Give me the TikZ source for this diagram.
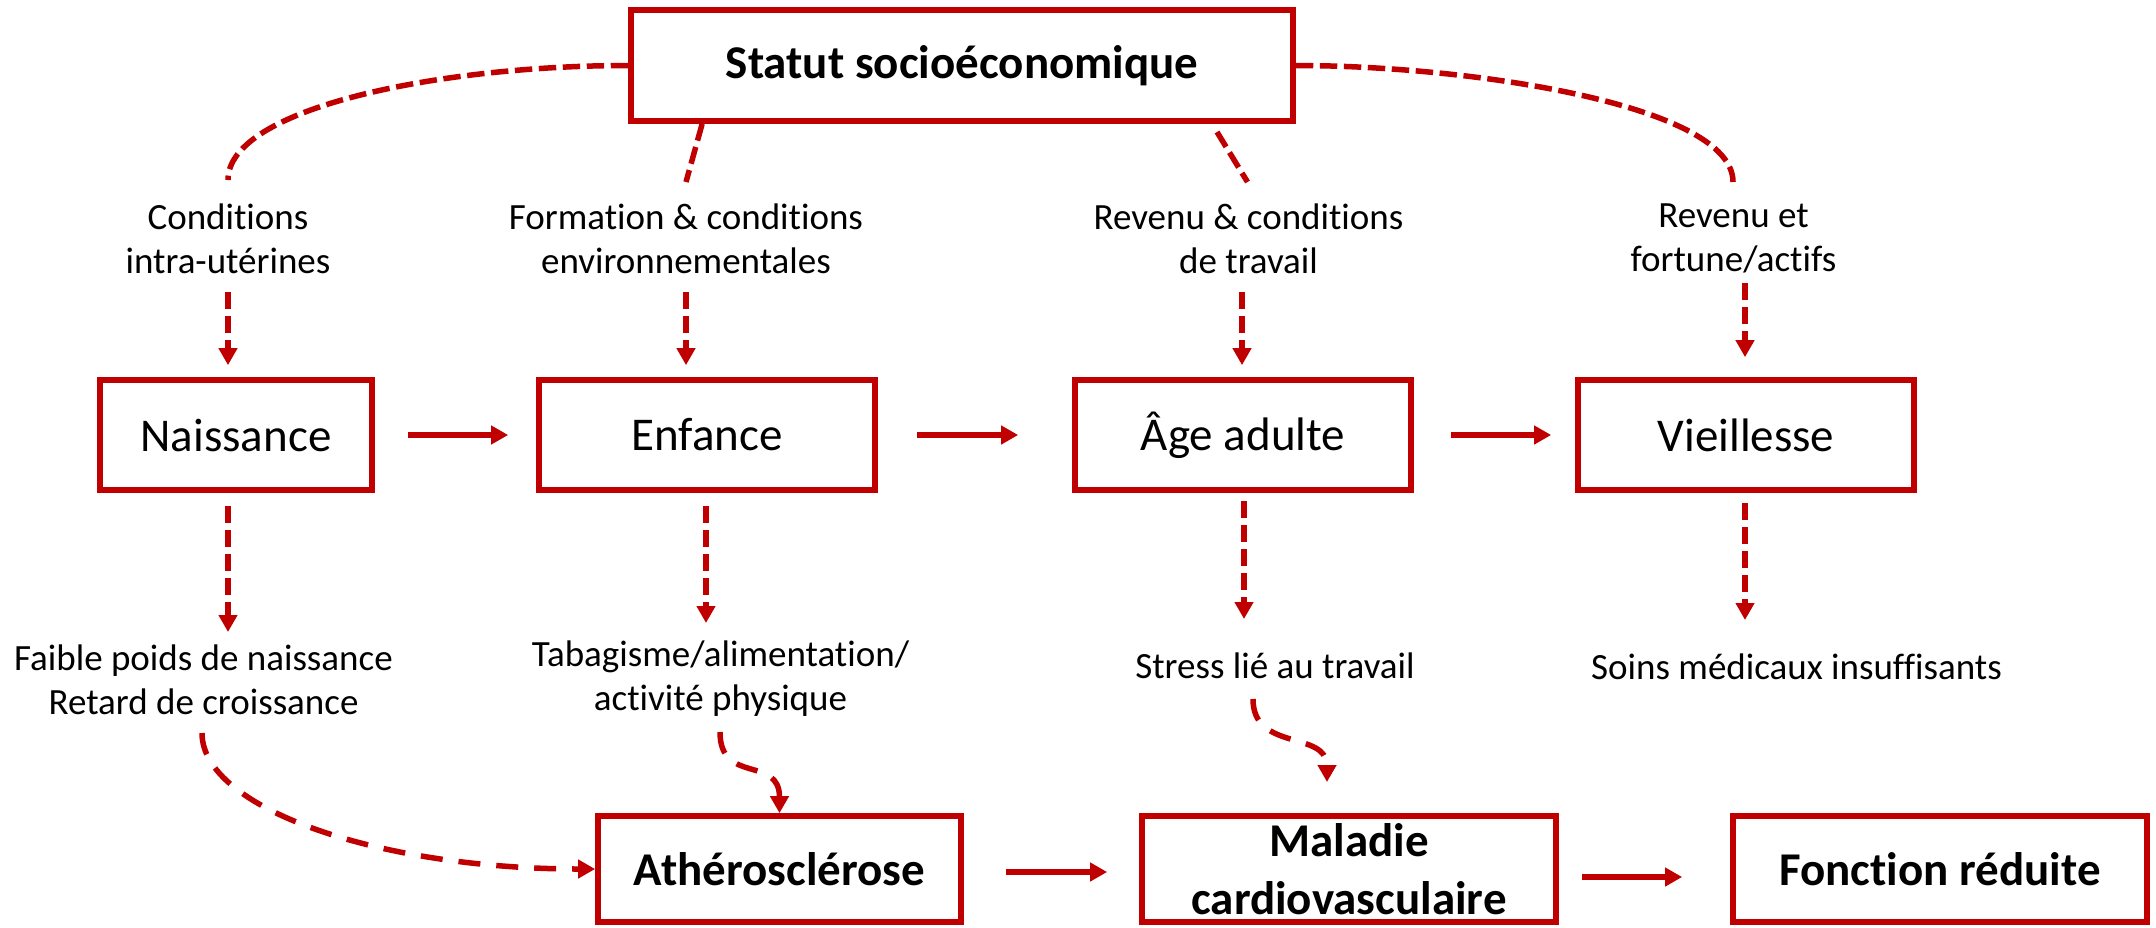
\documentclass[tikz,border=0pt]{standalone}
\usepackage{fontspec}
\setmainfont{Carlito}[Ligatures=NoCommon]
\usetikzlibrary{arrows.meta,calc}
\definecolor{dred}{RGB}{192,0,0}
\begin{document}
\begin{tikzpicture}[x=0.5pt,y=-0.5pt,
  box/.style={draw=dred, line width=2.85pt, inner sep=0pt, align=center, font=\fontsize{23.5}{29}\selectfont},
  bbox/.style={box, font=\fontsize{23.5}{29}\selectfont\bfseries},
  lab/.style={inner sep=0pt, align=center, font=\fontsize{18.5}{22}\selectfont},
  sarr/.style={draw=dred, line width=2.75pt, -{Triangle[length=8.5pt,width=9pt]}},
  dline/.style={draw=dred, line width=2.75pt, dash pattern=on 8.7pt off 3.3pt},
  darr/.style={draw=dred, line width=2.75pt, dash pattern=on 8.7pt off 3.3pt, -{Triangle[length=8.5pt,width=9pt]}},
  carr/.style={darr, dash pattern=on 11pt off 8pt},
]
\useasboundingbox (0,0) rectangle (2156,927);

% boxes
\node[bbox, minimum width=331pt, minimum height=55.5pt] (top) at (962,65.5) {Statut socioéconomique};
\node[box, minimum width=136pt, minimum height=55pt] (nais) at (236,435) {Naissance};
\node[box, minimum width=168pt, minimum height=55pt] (enf) at (707,435) {Enfance};
\node[box, minimum width=168pt, minimum height=55pt] (age) at (1243,435) {Âge adulte};
\node[box, minimum width=168pt, minimum height=55pt] (vie) at (1746,435) {Vieillesse};
\node[bbox, minimum width=181.5pt, minimum height=53pt] (ath) at (779.5,869) {Athérosclérose};
\node[bbox, minimum width=207pt, minimum height=53pt] (mal) at (1349,869) {Maladie\\cardiovasculaire};
\node[bbox, minimum width=207pt, minimum height=53pt] (fon) at (1940,869) {Fonction réduite};

% labels
\node[lab] (c1) at (228,238.5) {Conditions\\intra-utérines};
\node[lab] (c2) at (686,238.5) {Formation \& conditions\\environnementales};
\node[lab] (c3) at (1248.5,238.5) {Revenu \& conditions\\de travail};
\node[lab] (c4) at (1733.5,238.5) {Revenu et\\fortune/actifs};
\node[lab] (b1) at (203.5,680) {Faible poids de naissance\\Retard de croissance};
\node[lab] (b2) at (720.5,678.5) {Tabagisme/alimentation/\\activité physique};
\node[lab] (b3) at (1275,665.6) {Stress lié au travail};
\node[lab] (b4) at (1796.6,667) {Soins médicaux insuffisants};

% free ends
\coordinate (c1t) at (228,180);
\coordinate (c2t) at (686,182);
\coordinate (l3s) at (1217,132);
\coordinate (c3t) at (1247.5,182);
\coordinate (c4t) at (1733,182);
\coordinate (a1) at (228,292);
\coordinate (a2) at (686,292);
\coordinate (a3) at (1242,292);
\coordinate (a4) at (1745,283);
\coordinate (e1) at (228,632);
\coordinate (e2) at (706,623);
\coordinate (e3) at (1244,619);
\coordinate (e4) at (1745,620);
\coordinate (f1) at (202,733);
\coordinate (f2) at (720,732);
\coordinate (f3) at (1253,699);
\coordinate (f3e) at (1327,782);

% top dashed lines
\draw[dline] (top.west) .. controls (440,65.5) and (228,108) .. (c1t);
\draw[dline] ([xshift=37pt]top.south west) -- (c2t);
\draw[dline] (l3s) -- (c3t);
\draw[dline] (top.east) .. controls (1470,65.5) and (1733,105) .. (c4t);

% dashed arrows into life stages
\draw[darr, shorten >=6pt] (a1) -- (a1 |- nais.north);
\draw[darr, shorten >=6pt] (a2) -- (a2 |- enf.north);
\draw[darr, shorten >=6pt] (a3) -- (a3 |- age.north);
\draw[darr, shorten >=10pt] (a4) -- (a4 |- vie.north);

% dashed arrows out of life stages
\draw[darr, shorten <=6.5pt] (e1 |- nais.south) -- (e1);
\draw[darr, shorten <=6.5pt] (e2 |- enf.south) -- (e2);
\draw[darr, shorten <=4pt] (e3 |- age.south) -- (e3);
\draw[darr, shorten <=5pt] (e4 |- vie.south) -- (e4);

% curved dashed arrows
\draw[carr] (f1) .. controls (202,809) and (381,869) .. (ath.west);
\draw[carr] (f2) .. controls (720,785) and (779.5,755) .. (ath.north);
\draw[carr] (f3) .. controls (1253,752) and (1327,730) .. (f3e);

% solid arrows
\draw[sarr, shorten <=16.5pt, shorten >=14pt] (nais.east) -- (enf.west);
\draw[sarr, shorten <=19.5pt, shorten >=27pt] (enf.east) -- (age.west);
\draw[sarr, shorten <=18.75pt, shorten >=12pt] (age.east) -- (vie.west);
\draw[sarr, shorten <=21pt, shorten >=16pt] ([yshift=-1.5pt]ath.east) -- ([yshift=-1.5pt]mal.west);
\draw[sarr, shorten <=11.5pt, shorten >=24pt] ([yshift=-4pt]mal.east) -- ([yshift=-4pt]fon.west);
\end{tikzpicture}
\end{document}
